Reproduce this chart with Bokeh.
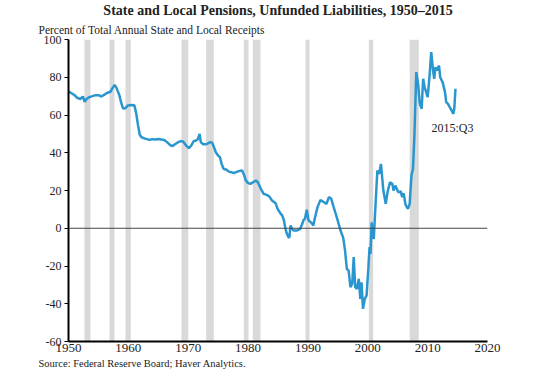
from bokeh.plotting import figure
from bokeh.models import Range1d, FixedTicker, Span, Label, Title
from bokeh.embed import file_html
from bokeh.resources import INLINE

# Data (x positions in chart-axis years, readings)
years = [1950.0, 1950.5, 1951.0, 1951.5, 1952.0, 1952.4, 1952.7, 1953.0, 1953.5, 1954.0,
         1954.5, 1955.0, 1955.5, 1956.0, 1956.5, 1957.0, 1957.3, 1957.7, 1958.0, 1958.5,
         1958.8, 1959.1, 1959.5, 1959.9, 1960.5, 1961.0, 1961.3, 1961.6, 1961.9, 1962.2,
         1962.8, 1963.5, 1964.0, 1964.5, 1965.0, 1965.5, 1966.0, 1966.5, 1967.0, 1967.4,
         1967.8, 1968.3, 1968.8, 1969.2, 1969.6, 1970.1, 1970.5, 1970.9, 1971.3, 1971.6,
         1971.9, 1972.1, 1972.5, 1973.0, 1973.3, 1973.7, 1974.0, 1974.3, 1974.6, 1975.0,
         1975.3, 1975.6, 1975.9, 1976.4, 1976.8, 1977.2, 1977.6, 1978.2, 1978.6, 1979.0,
         1979.3, 1979.6, 1980.0, 1980.4, 1980.9, 1981.3, 1981.6, 1981.9, 1982.2, 1982.6,
         1983.0, 1983.5, 1984.0, 1984.6, 1984.9, 1985.1, 1985.5, 1985.7, 1986.0, 1986.2,
         1986.4, 1986.7, 1986.9, 1987.1, 1987.3, 1987.6, 1988.2, 1988.7, 1989.0, 1989.3,
         1989.5, 1989.8, 1990.1, 1990.5, 1990.9, 1991.2, 1991.6, 1992.1, 1992.7, 1993.1,
         1993.5, 1993.9, 1994.3, 1994.9, 1995.4, 1995.9, 1996.2, 1996.5, 1996.8, 1997.1,
         1997.4, 1997.65, 1997.9, 1998.2, 1998.5, 1998.75, 1998.95, 1999.2, 1999.5, 1999.8,
         2000.1, 2000.3, 2000.45, 2000.65, 2000.8, 2001.0, 2001.3, 2001.6, 2001.9, 2002.2,
         2002.6, 2003.0, 2003.3, 2003.7, 2004.1, 2004.3, 2004.6, 2005.1, 2005.5, 2005.75,
         2006.0, 2006.3, 2006.7, 2007.0, 2007.3, 2007.55, 2007.8, 2008.1, 2008.4, 2008.7,
         2009.0, 2009.25, 2009.5, 2009.75, 2010.0, 2010.3, 2010.6, 2010.9, 2011.1, 2011.3,
         2011.6, 2011.9, 2012.1, 2012.5, 2012.9, 2013.1, 2013.4, 2013.7, 2014.0, 2014.3,
         2014.45, 2014.65]
values = [72.5, 71.5, 70.5, 69.0, 68.5, 69.8, 67.0, 68.5, 69.5, 70.0,
          70.5, 70.5, 69.8, 70.8, 71.8, 72.3, 74.0, 76.0, 74.5, 70.5,
          66.5, 63.5, 63.6, 65.0, 65.3, 65.2, 61.0, 55.0, 49.5, 48.2,
          47.5, 46.8, 47.2, 47.0, 47.3, 47.0, 46.8, 45.5, 44.0, 43.6,
          44.5, 45.6, 46.2, 45.8, 44.0, 42.4, 43.8, 46.1, 46.5, 47.2,
          50.0, 45.6, 44.5, 44.5, 45.0, 45.6, 45.3, 43.0, 40.3, 38.5,
          37.6, 34.0, 31.5, 31.0, 30.0, 29.7, 29.2, 30.0, 30.4, 30.6,
          28.5, 25.5, 23.9, 23.5, 24.5, 25.3, 24.5, 22.5, 20.5, 18.2,
          17.8, 17.0, 14.7, 13.3, 10.5, 9.4, 7.5, 6.8, 4.1, 0.5,
          -2.1, -4.5, -5.0, 1.5, 0.0, -1.2, -1.2, -0.3, 2.0, 4.5,
          5.0, 9.8, 4.1, 3.2, 1.5, 6.0, 11.2, 15.0, 13.8, 12.9,
          16.5, 15.6, 11.2, 5.0, -0.8, -5.1, -11.8, -21.5, -22.4, -31.2,
          -29.4, -15.3, -31.2, -32.1, -26.8, -37.4, -28.6, -42.7, -37.4, -35.6,
          -20.6, -10.0, -13.6, 3.2, -3.8, -5.6, 12.9, 30.6, 28.8, 34.1,
          20.0, 13.0, 19.1, 24.4, 23.5, 20.0, 22.6, 19.1, 19.5, 16.5,
          18.5, 12.5, 10.3, 12.9, 28.0, 31.5, 50.0, 82.7, 76.5, 65.9,
          63.3, 79.2, 74.7, 72.1, 69.4, 80.0, 93.3, 83.6, 79.2, 85.3,
          83.6, 86.2, 80.0, 77.4, 72.1, 66.8, 65.9, 64.1, 62.4, 60.6,
          63.3, 73.9]

rec_start = [1952.67, 1956.85, 1959.52, 1968.88, 1973.0, 1979.29, 1980.79, 1989.6, 2000.17, 2007.0]
rec_end = [1953.67, 1957.68, 1960.41, 1970.0, 1974.27, 1980.07, 1982.07, 1990.26, 2000.9, 2008.52]

x_ticks = [1950, 1960, 1970, 1980, 1990, 2000, 2010, 2020]
y_ticks = [-60, -40, -20, 0, 20, 40, 60, 80, 100]

title_text = "State and Local Pensions, Unfunded Liabilities, 1950\u20132015"
subtitle_text = "Percent of Total Annual State and Local Receipts"
source_text = "Source: Federal Reserve Board; Haver Analytics."
end_label = "2015:Q3"

FONT = "Liberation Serif"
TXT = "#222222"

p = figure(width=540, height=392, output_backend="svg", toolbar_location=None,
           x_range=Range1d(1950, 2020), y_range=Range1d(-60, 100),
           min_border_left=68, min_border_right=53, min_border_top=39, min_border_bottom=51)
p.title = None

p.quad(left=rec_start, right=rec_end, bottom=-60, top=100, fill_color="#d9d9d9", line_color=None)
p.add_layout(Span(location=0, dimension="width", line_color="#444444", line_width=1.2))
p.line(years, values, line_width=2.5, line_color="#2a96d0")

p.grid.visible = False
p.outline_line_color = None
p.background_fill_color = "white"

p.xaxis.ticker = FixedTicker(ticks=x_ticks)
p.xaxis.major_tick_out = 0
p.xaxis.major_tick_in = 0
p.xaxis.minor_tick_out = 0
p.xaxis.minor_tick_in = 0
p.xaxis.major_label_standoff = 2
p.xaxis.major_label_text_font_size = "13px"

p.yaxis.ticker = FixedTicker(ticks=y_ticks)
p.yaxis.major_label_overrides = {v: str(v) for v in y_ticks}
p.yaxis.major_tick_out = 4
p.yaxis.major_tick_in = 0
p.yaxis.minor_tick_out = 0
p.yaxis.minor_tick_in = 0
p.yaxis.major_label_standoff = 3
p.yaxis.major_label_text_font_size = "12px"

for ax in (p.xaxis, p.yaxis):
    ax.axis_line_color = "black"
    ax.axis_line_width = 2
    ax.major_tick_line_color = "black"
    ax.major_tick_line_width = 1
    ax.major_label_text_font = FONT
    ax.major_label_text_color = TXT

# subtitle (closest to frame), then main title above it
p.add_layout(Title(text=subtitle_text, align="left", offset=-30, standoff=8,
                   text_font=FONT, text_font_size="11.5px", text_font_style="normal",
                   text_color=TXT), "above")
p.add_layout(Title(text=title_text, align="center", offset=-14, standoff=0,
                   text_font=FONT, text_font_size="14px", text_font_style="bold",
                   text_color=TXT), "above")
p.add_layout(Title(text=source_text, align="left", offset=-30, standoff=3,
                   text_font=FONT, text_font_size="10.5px", text_font_style="normal",
                   text_color=TXT), "below")

p.add_layout(Label(x=2010.64, y=53.3, text=end_label, text_font=FONT, text_font_size="12px",
                   text_color=TXT, text_align="left", text_baseline="middle"))

open("out.html", "w").write(file_html(p, INLINE))
